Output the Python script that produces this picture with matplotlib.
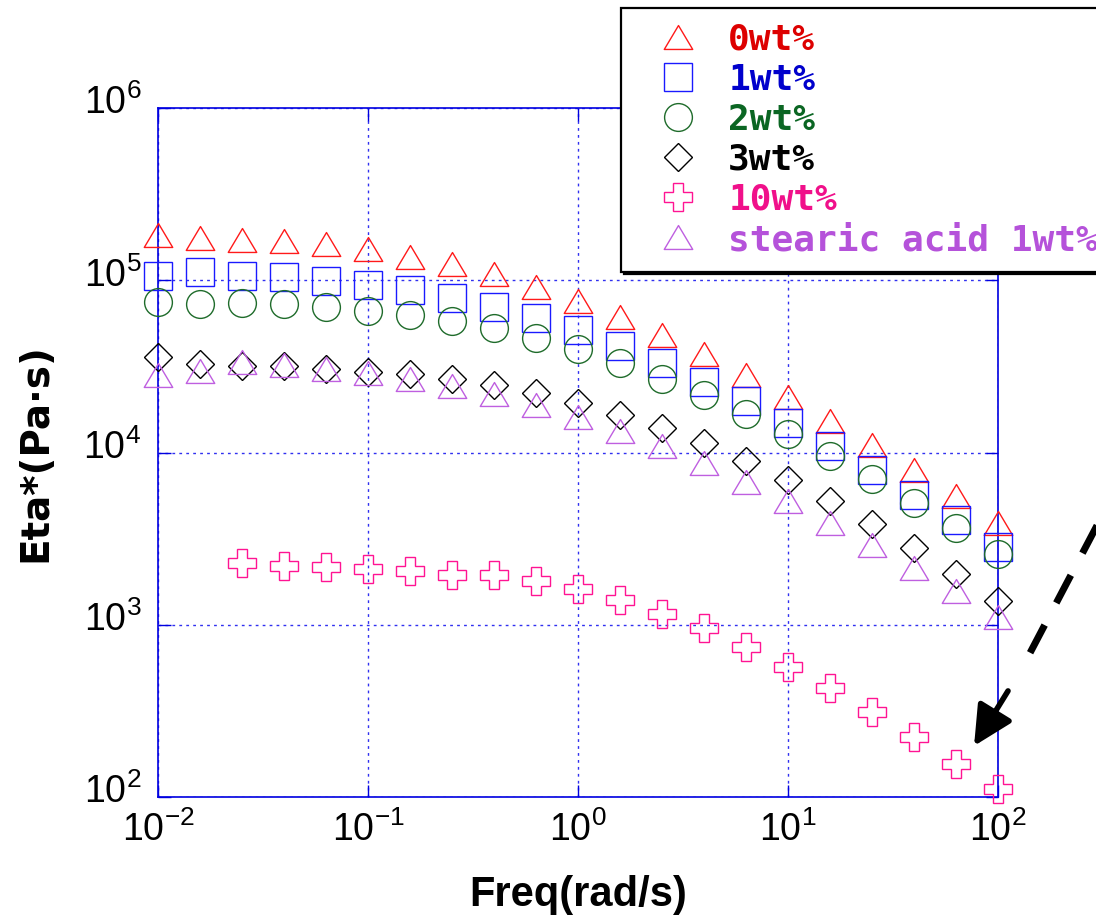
import matplotlib
matplotlib.use('Agg')
import matplotlib.pyplot as plt
import matplotlib.transforms as mtransforms
from matplotlib.path import Path

# frequencies (rad/s), 5 points per decade
freq = [0.01, 0.0158, 0.0251, 0.0398, 0.0631, 0.1, 0.158, 0.251, 0.398, 0.631,
        1.0, 1.58, 2.51, 3.98, 6.31, 10.0, 15.8, 25.1, 39.8, 63.1, 100.0]

# complex viscosity Eta* (Pa.s)
eta_0wt = [1.82e5, 1.77e5, 1.72e5, 1.68e5, 1.63e5, 1.51e5, 1.37e5, 1.24e5, 1.08e5, 9.1e4,
           7.55e4, 6.15e4, 4.79e4, 3.72e4, 2.80e4, 2.10e4, 1.53e4, 1.11e4, 7.95e3, 5.61e3, 3.91e3]
eta_1wt = [1.06e5, 1.12e5, 1.06e5, 1.045e5, 9.93e4, 9.42e4, 8.79e4, 7.91e4, 7.0e4, 6.05e4,
           5.11e4, 4.16e4, 3.30e4, 2.58e4, 1.99e4, 1.49e4, 1.09e4, 7.89e3, 5.70e3, 4.03e3, 2.83e3]
eta_2wt = [7.48e4, 7.32e4, 7.35e4, 7.25e4, 6.96e4, 6.67e4, 6.30e4, 5.82e4, 5.26e4, 4.63e4,
           3.97e4, 3.31e4, 2.68e4, 2.15e4, 1.67e4, 1.28e4, 9.51e3, 6.98e3, 5.07e3, 3.63e3, 2.58e3]
eta_3wt = [3.60e4, 3.26e4, 3.18e4, 3.16e4, 3.06e4, 2.95e4, 2.85e4, 2.68e4, 2.46e4, 2.23e4,
           1.94e4, 1.66e4, 1.39e4, 1.13e4, 8.93e3, 6.89e3, 5.21e3, 3.84e3, 2.78e3, 1.97e3, 1.37e3]
# 10wt% starts at the third frequency
eta_10wt = [2.29e3, 2.20e3, 2.17e3, 2.11e3, 2.05e3, 1.94e3, 1.94e3, 1.80e3, 1.61e3, 1.39e3,
            1.16e3, 952, 745, 570, 431, 311, 222, 156, 112]
eta_sa = [2.81e4, 2.98e4, 3.37e4, 3.23e4, 3.05e4, 2.90e4, 2.67e4, 2.43e4, 2.18e4, 1.89e4,
          1.60e4, 1.33e4, 1.09e4, 8.73e3, 6.76e3, 5.20e3, 3.92e3, 2.92e3, 2.14e3, 1.56e3, 1.11e3]

labels = ['0wt%', '1wt%', '2wt%', '3wt%', '10wt%', 'stearic acid 1wt%']
marker_colors = ['#FF1A1A', '#1A1AFF', '#1E6B2A', '#000000', '#FF1493', '#BF5FE0']
text_colors = ['#DD0000', '#0000CC', '#0B6623', '#000000', '#F0108A', '#B552DA']

# slightly flattened triangle like the original
tri = Path([(0, 0.84), (-1, -0.84), (1, -0.84), (0, 0.84)], closed=True)

plt.rcParams['font.family'] = 'Liberation Sans'
plt.rcParams['mathtext.default'] = 'regular'

fig = plt.figure(figsize=(10.96, 9.16), dpi=100)
ax = fig.add_axes([0.1442, 0.1299, 0.7664, 0.7522])

series = [
    (freq, eta_0wt, tri, 20.5),
    (freq, eta_1wt, 's', 20.5),
    (freq, eta_2wt, 'o', 20),
    (freq, eta_3wt, 'D', 14.3),
    (freq[2:], eta_10wt, 'P', 20.5),
    (freq, eta_sa, tri, 20.5),
]
for (x, y, m, ms), lab, c in zip(series, labels, marker_colors):
    ax.plot(x, y, linestyle='none', marker=m, markersize=ms, markerfacecolor='none',
            markeredgecolor=c, markeredgewidth=1.0, label=lab, clip_on=False, zorder=3)

ax.set_xscale('log')
ax.set_yscale('log')
ax.set_xlim(1e-2, 1e2)
ax.set_ylim(1e2, 1e6)
ax.set_xticks([1e-2, 1e-1, 1e0, 1e1, 1e2])
ax.set_yticks([1e2, 1e3, 1e4, 1e5, 1e6])
ax.minorticks_off()

ax.grid(True, which='major', color='#3030F0', linestyle=(0, (2, 3)), linewidth=1.0)
for s in ax.spines.values():
    s.set_color('#0000E0')
    s.set_linewidth(1.2)
ax.tick_params(which='major', direction='in', length=9, color='#0000E0', width=1.0,
               top=True, right=True, labelsize=27)
ax.tick_params(axis='x', pad=10)
ax.tick_params(axis='y', pad=12)

# y tick labels sit a little above their gridline in the original
lift = mtransforms.ScaledTranslation(0, 6 / 72, fig.dpi_scale_trans)
for lbl in ax.get_yticklabels():
    lbl.set_transform(lbl.get_transform() + lift)

ax.set_xlabel('Freq(rad/s)', fontsize=30, fontweight='bold', va='baseline')
ax.xaxis.set_label_coords(0.5, -0.1582)
ax.set_ylabel('Eta*(Pa·s)', fontsize=28, fontweight='bold', family='DejaVu Sans',
              va='center')
ax.yaxis.set_label_coords(-0.1464, 0.5)

leg = ax.legend(loc='upper left', bbox_to_anchor=(621 / 1096, 1 - 8 / 916),
                bbox_transform=fig.transFigure, borderaxespad=0, borderpad=0.4,
                handlelength=2.37, handletextpad=0.2, labelspacing=0.17,
                prop={'family': 'DejaVu Sans Mono', 'weight': 'bold', 'size': 26},
                labelcolor=text_colors, fancybox=False, framealpha=1,
                edgecolor='black', shadow={'color': 'black', 'alpha': 1})
leg.get_frame().set_linewidth(1.6)
leg.set_zorder(5)

# dashed pointer arrow toward the 10wt% tail
ax.plot([306, 128.8], [4.07e3, 547], color='black', linewidth=5,
        linestyle=(0, (4.5, 3.6)), clip_on=False, zorder=4, solid_capstyle='butt',
        dash_capstyle='butt')
ax.annotate('', xy=(76.9, 198), xytext=(111.6, 413), annotation_clip=False,
            arrowprops=dict(arrowstyle='-|>,head_length=24,head_width=12',
                            mutation_scale=1, color='black', lw=4, shrinkA=0, shrinkB=0),
            zorder=4)

fig.savefig('out.png', dpi=100)
